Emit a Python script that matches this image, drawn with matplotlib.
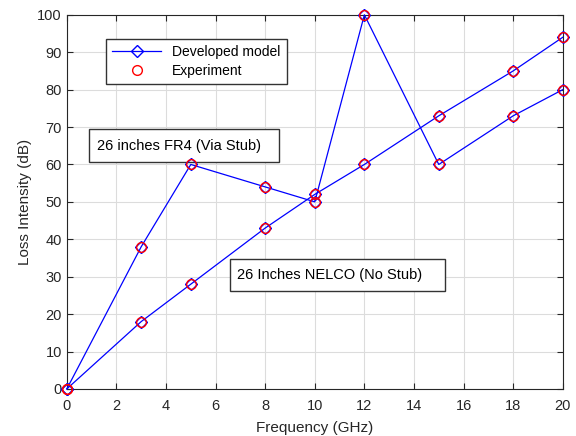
import matplotlib
matplotlib.use("Agg")
import matplotlib.pyplot as plt
from matplotlib.patches import Rectangle

plt.rcParams['font.family'] = ['Liberation Sans', 'DejaVu Sans']

# frequencies (GHz)
freq = [0, 3, 5, 8, 10, 12, 15, 18, 20]
# 26 inches FR4 (via stub)
fr4 = [0, 38, 60, 54, 50, 100, 60, 73, 80]
# 26 inches NELCO (no stub)
nelco = [0, 18, 28, 43, 52, 60, 73, 85, 94]

fig = plt.figure(figsize=(5.76, 4.36), dpi=100)
ax = fig.add_axes([0.116, 0.108, 0.861, 0.858])

for y in (fr4, nelco):
    ax.plot(freq, y, color='blue', lw=0.9, marker='D', ms=6, mfc='none', mec='blue', mew=1.0,
            zorder=3, clip_on=False)
    ax.plot(freq, y, ls='none', marker='o', ms=7, mfc='none', mec='red', mew=1.0,
            zorder=4, clip_on=False)

ax.set_xlim(0, 20)
ax.set_ylim(0, 100)
ax.set_xticks(range(0, 21, 2))
ax.set_yticks(range(0, 101, 10))
ax.grid(True, color='#dcdcdc', lw=0.8)
ax.tick_params(direction='in', top=True, right=True, labelsize=10.5, colors='#262626', length=4)
ax.tick_params(axis='x', pad=7)
for s in ax.spines.values():
    s.set_color('#262626')
    s.set_linewidth(0.8)
ax.set_xlabel('Frequency (GHz)', fontsize=11, color='#262626', labelpad=6)
ax.set_ylabel('Loss Intensity (dB)', fontsize=11, color='#262626')

# legend proxies
h1, = ax.plot([], [], color='blue', lw=0.9, marker='D', ms=6, mfc='none', mec='blue')
h2, = ax.plot([], [], ls='none', marker='o', ms=7, mfc='none', mec='red')
leg = ax.legend([h1, h2], ['Developed model', 'Experiment'], loc='upper left',
                bbox_to_anchor=(0.079, 0.936), borderaxespad=0, fontsize=10, fancybox=False,
                framealpha=1, edgecolor='#333333', borderpad=0.45, handlelength=3.5,
                labelspacing=0.35)
leg.get_frame().set_linewidth(1.0)

# annotation text boxes (axes fractions)
ax.add_patch(Rectangle((0.044, 0.606), 0.383, 0.088, transform=ax.transAxes,
                       fc='white', ec='#333333', lw=1.0, zorder=2.5))
ax.text(0.06, 0.6495, '26 inches FR4 (Via Stub)', transform=ax.transAxes,
        fontsize=10.5, va='center', ha='left', zorder=2.6)
ax.add_patch(Rectangle((0.329, 0.262), 0.433, 0.086, transform=ax.transAxes,
                       fc='white', ec='#333333', lw=1.0, zorder=2.5))
ax.text(0.343, 0.305, '26 Inches NELCO (No Stub)', transform=ax.transAxes,
        fontsize=10.5, va='center', ha='left', zorder=2.6)

fig.savefig('out.png', dpi=100)
